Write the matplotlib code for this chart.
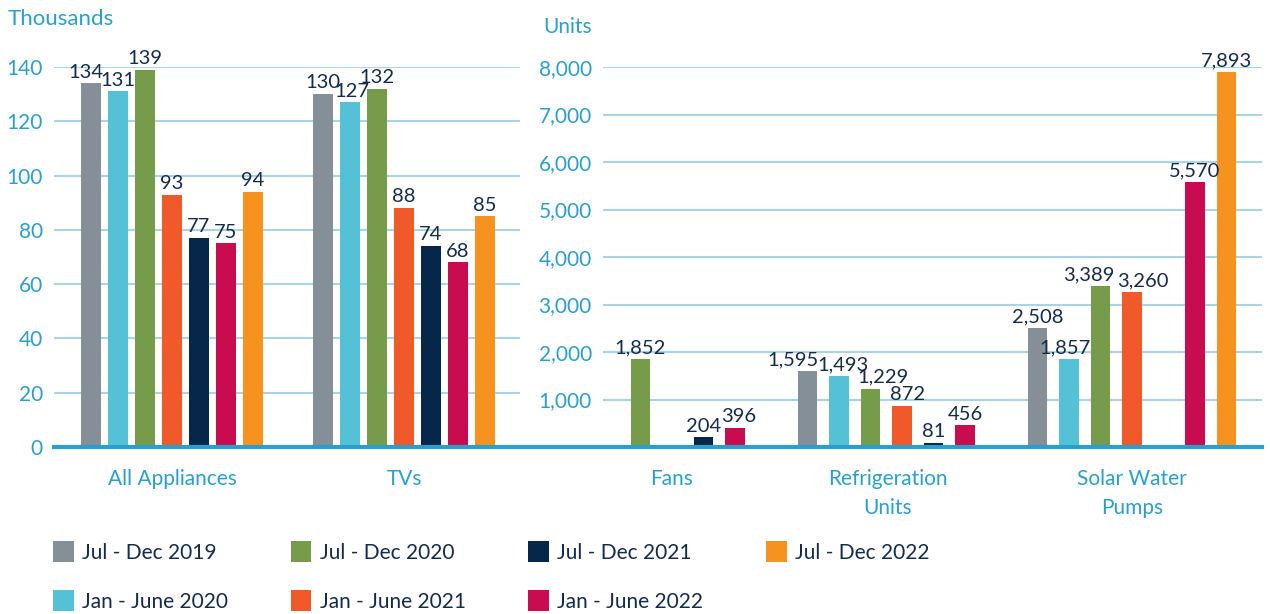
import numpy as np
import matplotlib.pyplot as plt
import matplotlib.transforms as mtrans
from matplotlib.patches import Patch
from matplotlib.lines import Line2D

plt.rcParams['font.family'] = ['Lato', 'DejaVu Sans']

periods = ["Jul - Dec 2019", "Jan - June 2020", "Jul - Dec 2020", "Jan - June 2021",
           "Jul - Dec 2021", "Jan - June 2022", "Jul - Dec 2022"]
colours = ["#848f97", "#55c1d6", "#769c4b", "#f05a2b", "#06264a", "#c80c4f", "#f6921e"]

# appliances sold, thousands
left_cats = ["All Appliances", "TVs"]
left_vals = [[134, 131, 139, 93, 77, 75, 94],
             [130, 127, 132, 88, 74, 68, 85]]

# productive use appliances, units (None = not reported)
right_cats = ["Fans", "Refrigeration\nUnits", "Solar Water\nPumps"]
right_vals = [[None, None, 1852, None, 204, 396, None],
              [1595, 1493, 1229, 872, 81, 456, None],
              [2508, 1857, 3389, 3260, None, 5570, 7893]]

# small sideways nudges (pixels) so crowded value labels don't collide
nudge = {("L", 0, 0): -5, ("L", 1, 1): 2,
         ("R", 0, 5): 4, ("R", 1, 0): -15, ("R", 1, 1): 4, ("R", 1, 2): 12, ("R", 1, 3): 6,
         ("R", 2, 1): -4, ("R", 2, 2): -12, ("R", 2, 3): 11}

blue = "#2b9fcb"
grid_col = "#aad3e6"
num_col = "#152b4c"

fig = plt.figure(figsize=(12.7, 6.14), dpi=100)
bottom, top = 1 - 447 / 614, 1 - 67 / 614
ax1 = fig.add_axes([54 / 1270, bottom, (520 - 54) / 1270, top - bottom])
ax2 = fig.add_axes([603 / 1270, bottom, (1262 - 603) / 1270, top - bottom])


def draw_groups(ax, key, cats, vals, slot, width, fmt):
    x = np.arange(len(cats))
    for i in range(len(periods)):
        offs = (i - 3) * slot
        for j in range(len(cats)):
            v = vals[j][i]
            if v is None:
                continue
            ax.bar(x[j] + offs, v, width=width, color=colours[i], zorder=3)
            dx = nudge.get((key, j, i), 0) * 0.72
            ax.annotate(fmt(v), (x[j] + offs, v), xytext=(dx, 2), textcoords="offset points",
                        ha="center", va="bottom", fontsize=14.5, color=num_col, zorder=4)
    ax.set_xticks(x)
    ax.set_xticklabels(cats, fontsize=15, color=blue, linespacing=1.55)


draw_groups(ax1, "L", left_cats, left_vals, 0.116, 0.086, lambda v: f"{v}")
draw_groups(ax2, "R", right_cats, right_vals, 0.137, 0.085, lambda v: f"{v:,}")

ax1.set_xlim(-0.509, 1.5)
ax1.set_ylim(0, 140)
ax1.set_yticks(range(0, 141, 20))
ax2.set_xlim(-0.30, 2.565)
ax2.set_ylim(0, 8000)
ax2.set_yticks(range(1000, 8001, 1000))
ax2.set_yticklabels([f"{t:,}" for t in range(1000, 8001, 1000)])

for ax in (ax1, ax2):
    for s in ax.spines.values():
        s.set_visible(False)
    ax.tick_params(length=0)
    ax.tick_params(axis="y", labelsize=15, labelcolor=blue, pad=8)
    ax.tick_params(axis="x", pad=16)
    ax.yaxis.grid(True, color=grid_col, linewidth=1.5, zorder=0)
    ax.set_axisbelow(True)

# the refrigeration label sits a little left of its group in the original
lbl = ax2.get_xticklabels()[1]
lbl.set_transform(lbl.get_transform() + mtrans.ScaledTranslation(-14 / 100, 0, fig.dpi_scale_trans))

# continuous baseline under both panels
p1, p2 = ax1.get_position(), ax2.get_position()
fig.add_artist(Line2D([p1.x0, p2.x1], [bottom, bottom], color=blue, linewidth=3, zorder=5))

fig.text(8 / 1270, 1 - 19 / 614, "Thousands", fontsize=16, color=blue, va="center")
fig.text(543 / 1270, 1 - 27 / 614, "Units", fontsize=15, color=blue, va="center")

handles = [Patch(facecolor=c, edgecolor="none") for c in colours]
fig.legend(handles, periods, ncol=4, loc="upper left", bbox_to_anchor=(53 / 1270, 1 - 541 / 614),
           frameon=False, fontsize=15, handlelength=1.0, handleheight=1.2, handletextpad=0.4,
           labelspacing=1.3, columnspacing=3.0, borderpad=0, borderaxespad=0, labelcolor=num_col)

fig.savefig("out.png", dpi=100)
